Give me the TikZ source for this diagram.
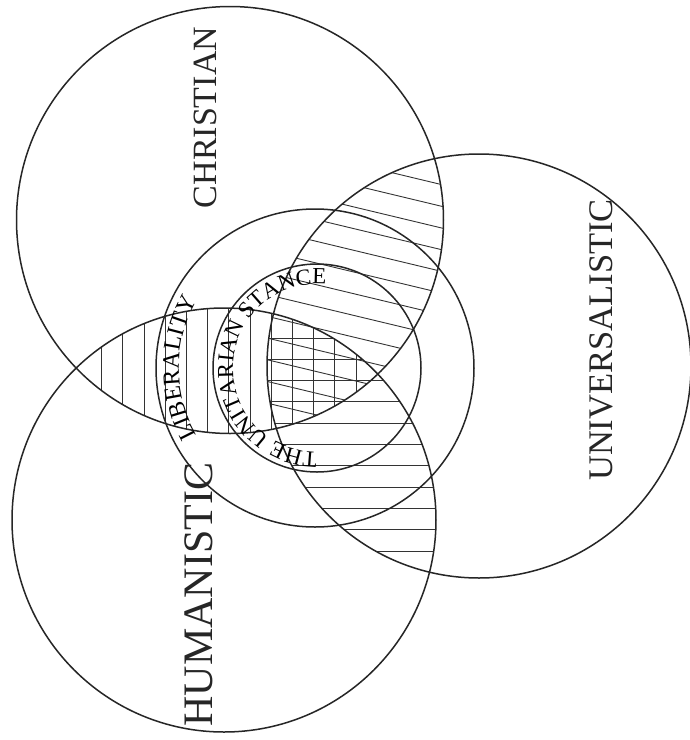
\documentclass[tikz,border=0pt]{standalone}
\usepackage{fontspec}
\setmainfont{Liberation Serif}
\usetikzlibrary{decorations.text}
\newcommand\libfont{\fontsize{24}{24}\selectfont}
\newcommand\stafont{\fontsize{23}{23}\selectfont}
\begin{document}
\begin{tikzpicture}[x=1pt,y=1pt,
  ring/.style={draw=black!85, line width=1.5pt},
  hatch/.style={draw=black!80, line width=0.9pt},
  bigname/.style={rotate=90, inner sep=0pt, text=black!85}]
\useasboundingbox (0,0) rectangle (690,-740);
\fill[white] (0,0) rectangle (690,-740);
% centres
\coordinate (chr) at (230,-220);
\coordinate (uni) at (479,-366);
\coordinate (hum) at (224,-520);
\coordinate (lib) at (315,-368);
\coordinate (sta) at (317,-368);
% christian and humanistic: vertical
\begin{scope}
\clip (chr) circle[radius=213.5];
\clip (hum) circle[radius=212];
\foreach \i in {0,...,12}
  \draw[hatch] (101.7+21.2*\i,-290) -- ++(0,-170);
\end{scope}
% christian and universalistic: slanted
\begin{scope}
\clip (chr) circle[radius=213.5];
\clip (uni) circle[radius=212];
\foreach \i in {0,...,12}
  \draw[hatch] (250,-138.6-21.7*\i) -- (470,-191.4-21.7*\i);
\end{scope}
% humanistic and universalistic: horizontal
\begin{scope}
\clip (hum) circle[radius=212];
\clip (uni) circle[radius=212];
\foreach \i in {0,...,10}
  \draw[hatch] (260,-338-21.3*\i) -- ++(190,0);
\end{scope}
% circles
\draw[ring] (chr) circle[radius=213.5];
\draw[ring] (uni) circle[radius=212];
\draw[ring] (hum) circle[radius=212];
\draw[ring] (lib) circle[radius=159];
\draw[ring] (sta) circle[radius=104];
% names
\node[bigname, font=\fontsize{34}{34}\selectfont] (christian) at (205,-117.5) {CHRISTIAN};
\node[bigname, font=\fontsize{42}{42}\selectfont] (humanistic) at (199,-594.5) {HUMANISTIC};
\node[bigname, font=\fontsize{34.5}{34.5}\selectfont] (universalistic) at (601,-340) {UNIVERSALISTIC};
\path[decorate, decoration={text along path, text align=center,
  text={|\libfont|LIBERALITY}}]
  (lib) ++(215:136) arc[start angle=215, end angle=145, radius=136];
\path[decorate, decoration={text along path, text align=center,
  text={|\stafont|THE UNITARIAN STANCE}}]
  (sta) ++(-75:84) arc[start angle=-75, end angle=-291, radius=84];
\end{tikzpicture}
\end{document}
